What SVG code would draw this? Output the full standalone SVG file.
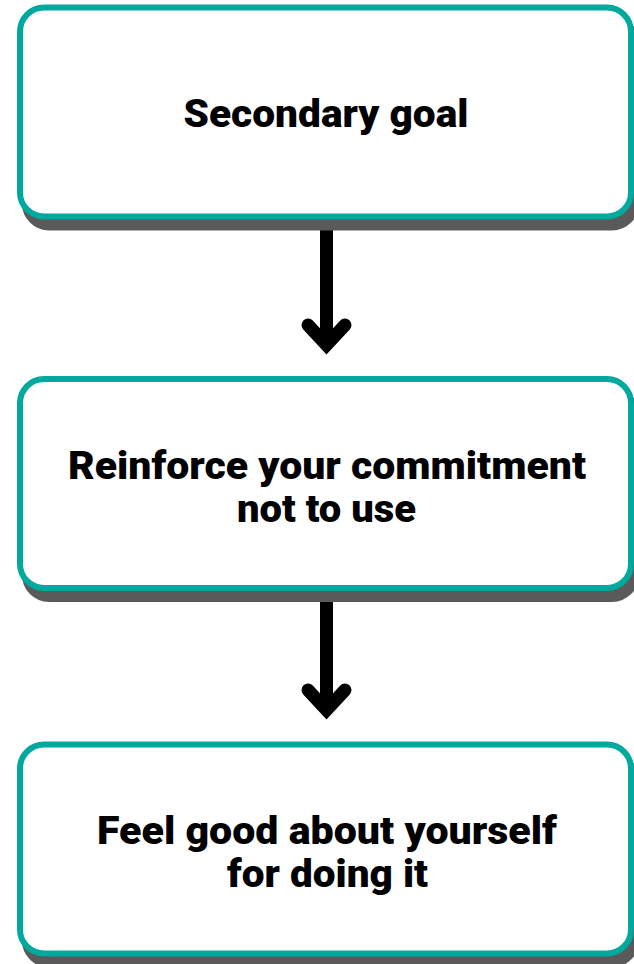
<svg xmlns="http://www.w3.org/2000/svg" width="634" height="964" viewBox="0 0 634 964">
<style>
.shadow{fill:#5a5a5a;stroke:#5a5a5a;stroke-width:6}
.box{fill:#ffffff;stroke:#00a99d;stroke-width:6}
.lbl{font-family:Roboto,"Liberation Sans",sans-serif;font-weight:900;font-size:39px;fill:#000;text-anchor:middle}
.shaft{stroke:#000;stroke-width:13;fill:none}
.head{stroke:#000;stroke-width:13;fill:none;stroke-linecap:round;stroke-linejoin:miter;stroke-miterlimit:10}
</style>
<rect width="634" height="964" fill="#ffffff"/>
<g id="connectors">
<line class="shaft" x1="326.5" y1="219" x2="326.5" y2="344"/>
<polyline class="head" points="308,325 326.5,345 345,325"/>
<line class="shaft" x1="326.5" y1="591" x2="326.5" y2="709"/>
<polyline class="head" points="308,690 326.5,710 345,690"/>
</g>
<g id="node1">
<rect class="shadow" x="25" y="18.5" width="611" height="209" rx="24"/>
<rect class="box" x="20" y="7.5" width="611" height="209" rx="24"/>
<text class="lbl" x="326" y="127" textLength="285" lengthAdjust="spacingAndGlyphs">Secondary goal</text>
</g>
<g id="node2">
<rect class="shadow" x="25" y="390" width="611" height="209" rx="24"/>
<rect class="box" x="20" y="379" width="611" height="209" rx="24"/>
<text class="lbl" x="327" y="479" textLength="518" lengthAdjust="spacingAndGlyphs">Reinforce your commitment</text>
<text class="lbl" x="326.5" y="522" textLength="179" lengthAdjust="spacingAndGlyphs">not to use</text>
</g>
<g id="node3">
<rect class="shadow" x="25" y="755.5" width="611" height="209" rx="24"/>
<rect class="box" x="20" y="744.5" width="611" height="209" rx="24"/>
<text class="lbl" x="327" y="844" textLength="460" lengthAdjust="spacingAndGlyphs">Feel good about yourself</text>
<text class="lbl" x="327.5" y="887" textLength="201" lengthAdjust="spacingAndGlyphs">for doing it</text>
</g>
</svg>
